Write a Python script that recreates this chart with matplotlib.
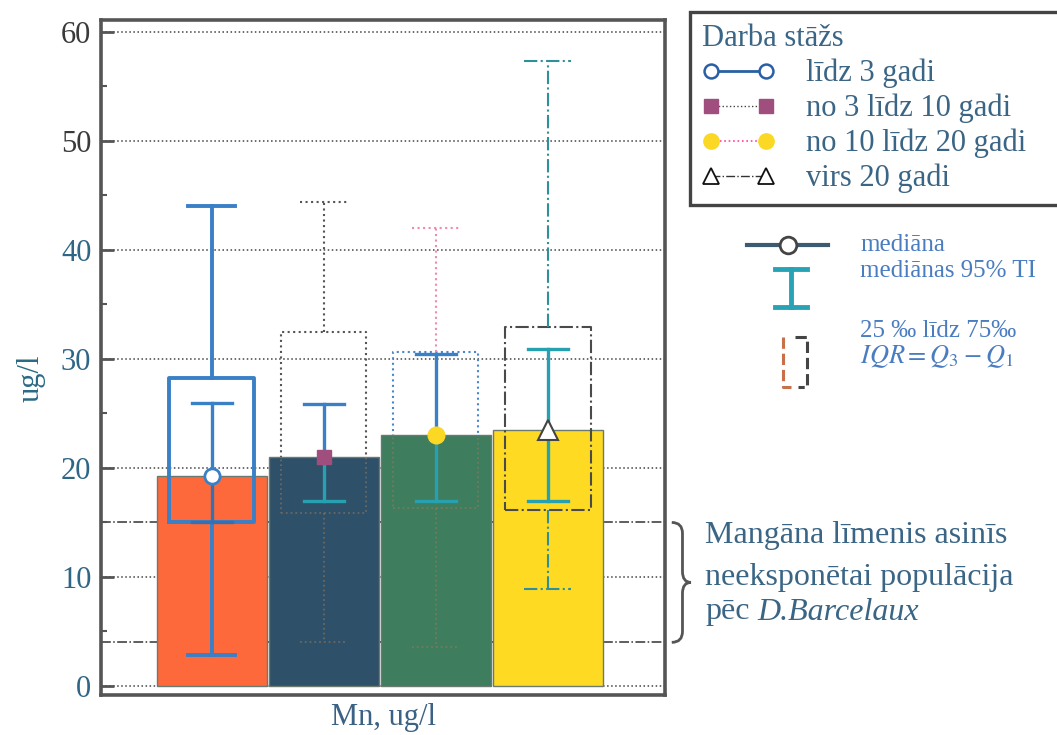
import matplotlib.pyplot as plt
import matplotlib.transforms as mtransforms
from matplotlib.lines import Line2D
from matplotlib.path import Path
from matplotlib.patches import PathPatch

plt.rcParams['font.family'] = ['Liberation Serif', 'DejaVu Serif']
plt.rcParams['mathtext.fontset'] = 'stix'

# data (ug/l)
groups = ['līdz 3 gadi', 'no 3 līdz 10 gadi', 'no 10 līdz 20 gadi', 'virs 20 gadi']
median = [19.3, 21.0, 23.0, 23.5]
q1 = [15.0, 15.9, 16.3, 16.1]
q3 = [28.3, 32.5, 30.6, 32.9]
whisk_lo = [2.8, 4.0, 3.6, 8.9]
whisk_hi = [44.0, 44.4, 42.0, 57.3]
ci_lo = [15.0, 17.0, 17.0, 17.0]
ci_hi = [26.0, 25.9, 30.5, 30.9]
ref_band = [4.0, 15.0]   # Barcelaux, unexposed population
yticks = [0, 10, 20, 30, 40, 50, 60]
ytick_colors = ['#2f6685', '#2f6685', '#2f6685', '#2f6685', '#2f6685', '#3a3a3a', '#3a3a3a']

# styles
bar_colors = ['#fd693b', '#2f5069', '#3f7d5f', '#fedb22']
box_colors = ['#3a80c6', '#555555', '#4a86d0', '#4a4a4a']
whisk_colors = ['#3a80c6', '#555555', '#f08aa8', '#2f8f9a']
box_ls = ['-', ':', ':', '-.']
box_lw = [2.8, 1.5, 1.5, 1.5]
over_bar = [True, False, False, True]
ci_top_colors = ['#3a80c6', '#3a80c6', '#3a80c6', '#27a0b0']
ci_bot_colors = ['#3570b0', '#27a0b0', '#27a0b0', '#27a0b0']
med_style = [dict(marker='o', mfc='white', mec='#3a80c6', ms=11, mew=2),
             dict(marker='s', mfc='#a04e7e', mec='#a04e7e', ms=10),
             dict(marker='o', mfc='#fbd823', mec='#fbd823', ms=12),
             dict(marker='^', mfc='white', mec='#444444', ms=15, mew=1.5)]
text_col = '#3a6585'

W, H = 1057, 735
fig = plt.figure(figsize=(W / 100, H / 100), dpi=100)
ax = fig.add_axes([101 / W, 1 - 695 / H, 564 / W, 675 / H])
xs = list(range(len(groups)))
ax.set_xlim(-0.99, 4.045)
ax.set_ylim(-0.83, 61.1)

# grid
for y in yticks:
    ax.axhline(y, color='#444444', ls=':', lw=1.1, zorder=0)
for y in ref_band:
    ax.axhline(y, color='#333333', ls='-.', lw=1.1, zorder=0)

bars = ax.bar(xs, median, width=0.98, color=bar_colors, edgecolor='#6a7a70',
              lw=1, zorder=2)


def box_whisker(i, color, wcolor, ls, lw, z, clip=None, alpha=1.0):
    xc = xs[i]
    bw, cw = 0.38, 0.21
    segs = [([xc - bw, xc + bw, xc + bw, xc - bw, xc - bw], [q1[i], q1[i], q3[i], q3[i], q1[i]], color),
            ([xc, xc], [q3[i], whisk_hi[i]], wcolor),
            ([xc - cw, xc + cw], [whisk_hi[i], whisk_hi[i]], wcolor),
            ([xc, xc], [q1[i], whisk_lo[i]], wcolor),
            ([xc - cw, xc + cw], [whisk_lo[i], whisk_lo[i]], wcolor)]
    for sx, sy, c in segs:
        ln, = ax.plot(sx, sy, color=c, ls=ls, lw=lw, zorder=z, alpha=alpha,
                      solid_capstyle='projecting')
        if clip is not None:
            ln.set_clip_path(clip)


for i in xs:
    if over_bar[i]:
        box_whisker(i, box_colors[i], whisk_colors[i], box_ls[i], box_lw[i], 3)
    else:
        box_whisker(i, box_colors[i], whisk_colors[i], box_ls[i], box_lw[i], 1)
        box_whisker(i, '#9a7a5a', '#9a7a5a', ':', 1.3, 3, clip=bars[i], alpha=0.55)

# median confidence intervals + medians
for i in xs:
    xc = xs[i]
    cc = 0.18
    ax.plot([xc, xc], [median[i], ci_hi[i]], color=ci_top_colors[i], lw=2.4, zorder=4)
    ax.plot([xc - cc, xc + cc], [ci_hi[i], ci_hi[i]], color=ci_top_colors[i], lw=2.4, zorder=4)
    ax.plot([xc, xc], [ci_lo[i], median[i]], color=ci_bot_colors[i], lw=2.4, zorder=4)
    ax.plot([xc - cc, xc + cc], [ci_lo[i], ci_lo[i]], color=ci_bot_colors[i], lw=2.4, zorder=4)
    ax.plot([xc], [median[i]], ls='none', zorder=5, **med_style[i])

# axes styling
for s in ax.spines.values():
    s.set_color('#555555')
    s.set_linewidth(2.6)
ax.set_xticks([])
ax.set_yticks(yticks)
ax.set_yticks([5, 15, 25, 35, 45, 55], minor=True)
ax.tick_params(axis='y', which='major', direction='in', length=9, width=2,
               color='#555555', labelsize=22, pad=7)
ax.tick_params(axis='y', which='minor', direction='in', length=4, width=1.5, color='#555555')
for lab, c in zip(ax.get_yticklabels(), ytick_colors):
    lab.set_color(c)
ax.set_xlabel('Mn, ug/l', fontsize=22, color='#3b6184', labelpad=6)
ax.set_ylabel('ug/l', fontsize=22, color='#2a6a85')
ax.yaxis.set_label_coords(-0.099, 0.47)

# brace for the reference band
tr = mtransforms.blended_transform_factory(ax.transAxes, ax.transData)
x0, xm, xt, r = 1.012, 1.031, 1.046, 1.0
lo, hi = ref_band
mid = (lo + hi) / 2
verts = [(x0, hi), (xm, hi), (xm, hi - r), (xm, mid + r), (xm, mid), (xt, mid),
         (xm, mid), (xm, mid - r), (xm, lo + r), (xm, lo), (x0, lo)]
codes = [Path.MOVETO, Path.CURVE3, Path.CURVE3, Path.LINETO, Path.CURVE3, Path.CURVE3,
         Path.CURVE3, Path.CURVE3, Path.LINETO, Path.CURVE3, Path.CURVE3]
ax.add_patch(PathPatch(Path(verts, codes), transform=tr, fill=False, ec='#555555',
                       lw=2, clip_on=False))

fig.text(705 / W, 1 - 535 / H, 'Mangāna līmenis asinīs', fontsize=23, color=text_col, va='center')
fig.text(705 / W, 1 - 577 / H, 'neeksponētai populācija', fontsize=23, color=text_col, va='center')
fig.text(705 / W, 1 - 612 / H, 'pēc', fontsize=23, color=text_col, va='center')
fig.text(757 / W, 1 - 612 / H, 'D.Barcelaux', fontsize=23, color=text_col, va='center',
         style='italic')

# group legend (box runs off the right edge, as in the scan)
handles = [Line2D([], [], color='#2a5fa5', lw=2, marker='o', mfc='white', mec='#2a5fa5', ms=10, mew=1.8),
           Line2D([], [], color='#444444', lw=1, ls=':', marker='s', mfc='#a04e7e', mec='#a04e7e', ms=10),
           Line2D([], [], color='#ff3fa0', lw=1.2, ls=':', marker='o', mfc='#fbd823', mec='#fbd823', ms=11),
           Line2D([], [], color='#333333', lw=1, ls='-.', marker='^', mfc='white', mec='#111111', ms=12, mew=1.3)]
leg = fig.legend(handles, groups, loc='upper left',
                 bbox_to_anchor=(690 / W, 1 - 12 / H - 0.01, 385 / W, 0.01), mode='expand',
                 title='Darba stāžs', alignment='left', fontsize=22, title_fontsize=22,
                 frameon=True, fancybox=False, edgecolor='#444444', framealpha=1,
                 borderpad=0.4, labelspacing=0.18, handlelength=2.4, handletextpad=1.0,
                 numpoints=2, borderaxespad=0, labelcolor=text_col)
leg.get_title().set_color(text_col)
leg.get_frame().set_linewidth(2.4)

# symbol key
key_col = '#4a7cc0'
fig.add_artist(Line2D([747 / W, 828 / W], [1 - 245 / H] * 2, color='#3d5a73', lw=3))
fig.add_artist(Line2D([788 / W], [1 - 245 / H], marker='o', ms=12, mfc='white', mec='#444444', mew=2))
fig.add_artist(Line2D([791 / W, 791 / W], [1 - 269 / H, 1 - 307 / H], color='#27a3b5', lw=3.5))
fig.add_artist(Line2D([775 / W, 807 / W], [1 - 269 / H] * 2, color='#27a3b5', lw=3.5))
fig.add_artist(Line2D([775 / W, 807 / W], [1 - 307 / H] * 2, color='#27a3b5', lw=3.5))
fig.add_artist(Line2D([795 / W, 807 / W, 807 / W, 798 / W],
                      [1 - 337 / H, 1 - 337 / H, 1 - 387 / H, 1 - 387 / H],
                      color='#444444', lw=2.2, ls='--'))
fig.add_artist(Line2D([783 / W, 783 / W, 791 / W], [1 - 337 / H, 1 - 387 / H, 1 - 387 / H],
                      color='#c8704a', lw=2.2, ls='--'))
fig.text(860 / W, 1 - 245 / H, 'mediāna', fontsize=18, color=key_col, va='center')
fig.text(860 / W, 1 - 271 / H, 'mediānas 95% TI', fontsize=18, color=key_col, va='center')
fig.text(860 / W, 1 - 331 / H, '25 ‰ līdz 75‰', fontsize=18, color=key_col, va='center')
fig.text(860 / W, 1 - 357 / H, r'$IQR = Q_3 - Q_1$', fontsize=19, color=key_col, va='center')

fig.savefig('out.png', dpi=100)
